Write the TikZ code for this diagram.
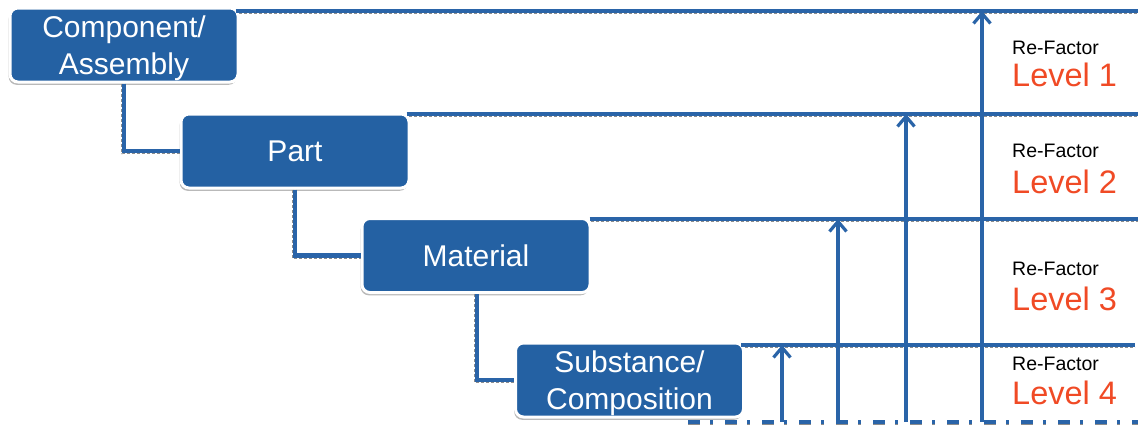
\documentclass[tikz,border=0pt]{standalone}
\usepackage{fontspec}
\setmainfont{Liberation Sans}
\usetikzlibrary{shadows,arrows.meta,calc}
\definecolor{boxblue}{HTML}{2461A3}
\definecolor{lineblue}{HTML}{2A64A8}
\definecolor{levelred}{HTML}{F04A25}
\tikzset{
  levelbox/.style={draw=white, line width=3pt, fill=boxblue, rounded corners=8pt,
    minimum width=228pt, minimum height=74pt, inner sep=0pt, align=center,
    text=white, font=\fontsize{30}{37}\selectfont, text depth=0pt,
    drop shadow={shadow xshift=-1.3pt, shadow yshift=-2.8pt, fill=black!55}},
  link/.style={draw=lineblue, line width=4.2pt},
  lineshade/.style={draw=black!45, line width=1.2pt, densely dashed},
  rise/.style={draw=lineblue, line width=3.6pt,
    -{Straight Barb[length=10pt, width=17pt, line width=3.2pt]}},
  dashdot/.style={dash pattern=on 12pt off 10pt on 3pt off 12pt},
  floor/.style={draw=lineblue, line width=3.6pt, dashdot},
  floorshade/.style={draw=black!45, line width=1.2pt, dashdot},
  refactor/.style={anchor=base west, inner sep=0pt, font=\fontsize{19.5}{20}\selectfont},
  level/.style={anchor=base west, inner sep=0pt, text=levelred, font=\fontsize{32.5}{33}\selectfont},
}
\begin{document}
\begin{tikzpicture}[x=1pt, y=-1pt]
\useasboundingbox (0,0) rectangle (1140,426);

% right ends of the level lines
\coordinate (e1) at (1138,11);
\coordinate (e2) at (1138,114);
\coordinate (e3) at (1138,219);
\coordinate (e4) at (1135,345);
\coordinate (b0) at (688,422);
\coordinate (b1) at (1138,422);

% shade under the level lines
\draw[lineshade] ([yshift=-2.8pt]229,11) -- ([yshift=-2.8pt]e1);
\draw[lineshade] ([yshift=-2.8pt]404,114) -- ([yshift=-2.8pt]e2);
\draw[lineshade] ([yshift=-2.8pt]586,219) -- ([yshift=-2.8pt]e3);
\draw[lineshade] ([yshift=-2.8pt]740,345) -- ([yshift=-2.8pt]e4);
\draw[floorshade] ([yshift=-2.2pt]b0) -- ([yshift=-2.2pt]b1);

% hierarchy boxes
\node[levelbox] (comp) at (124,45) {Component/\\Assembly};
\node[levelbox] (part) at (295,151) {Part};
\node[levelbox] (mat)  at (476,255.5) {Material};
\node[levelbox] (sub)  at (629.5,380) {Substance/\\Composition};

% elbow links between the levels
\draw[lineshade] ([xshift=-2pt]comp.south) |- ([yshift=-2.8pt]part.west);
\draw[lineshade] ([xshift=-2pt]part.south) |- ([yshift=-2.8pt]mat.west);
\draw[lineshade] ([xshift=-1pt]mat.south) |- ([yshift=-2.8pt]sub.west);
\draw[link] (comp.south) |- (part.west);
\draw[link] (part.south) |- (mat.west);
\draw[link] ([xshift=1pt]mat.south) |- (sub.west);

% level boundary lines
\draw[link] ([xshift=-4pt]comp.north east |- e1) -- (e1);
\draw[link] ([xshift=-4pt]part.north east |- e2) -- (e2);
\draw[link] ([xshift=-2pt]mat.north east |- e3) -- (e3);
\draw[link] ([xshift=-4pt]sub.north east |- e4) -- (e4);
\draw[floor] (b0) -- (b1);

% rising arrows
\coordinate (a1) at (982,422);
\coordinate (a2) at (906,422);
\coordinate (a3) at (838,422);
\coordinate (a4) at (782,422);
\draw[rise] (a1) -- (a1 |- e1);
\draw[rise] (a2) -- (a2 |- e2);
\draw[rise] (a3) -- (a3 |- e3);
\draw[rise] (a4) -- (a4 |- e4);

% level labels
\node[refactor] (rf1) at (1012,54) {Re-Factor};
\node[level] (lv1) at (1012,86) {Level 1};
\node[refactor] (rf2) at (1012,157) {Re-Factor};
\node[level] (lv2) at (1012,193) {Level 2};
\node[refactor] (rf3) at (1012,275) {Re-Factor};
\node[level] (lv3) at (1012,310) {Level 3};
\node[refactor] (rf4) at (1012,370) {Re-Factor};
\node[level] (lv4) at (1012,404) {Level 4};
\end{tikzpicture}
\end{document}
